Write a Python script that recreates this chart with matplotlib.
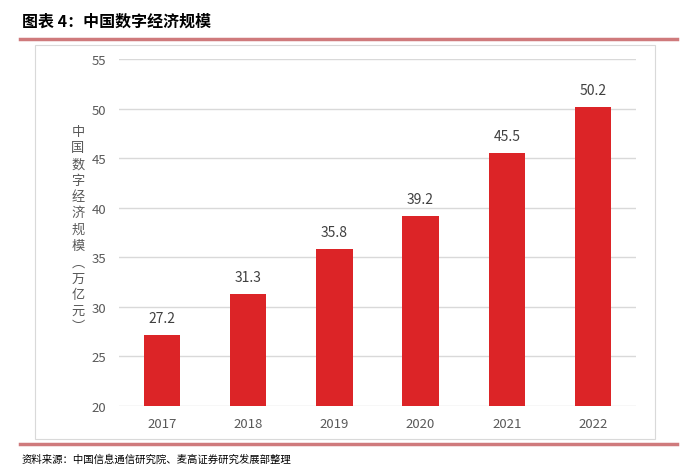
import matplotlib.pyplot as plt
from matplotlib.lines import Line2D
from matplotlib.patches import Rectangle

plt.rcParams['font.family'] = ['Noto Sans CJK SC', 'DejaVu Sans']

## Data
years = ['2017', '2018', '2019', '2020', '2021', '2022']
scale = [27.2, 31.3, 35.8, 39.2, 45.5, 50.2]
y_ticks = [20, 25, 30, 35, 40, 45, 50, 55]

title = '图表 4：中国数字经济规模'
source = '资料来源：中国信息通信研究院、麦高证券研究发展部整理'
ylabel = '中国数字经济规模︵万亿元︶'

W, H = 700, 477
fig = plt.figure(figsize=(W / 100, H / 100), dpi=100)

# axes placed in pixel coordinates of the reference
left, right, top, bottom = 119, 636, 60, 407
ax = fig.add_axes([left / W, 1 - bottom / H, (right - left) / W, (bottom - top) / H])

x = range(len(years))
ax.bar(x, [v - 20 for v in scale], bottom=20, width=0.42, color='#dc2427', zorder=3)
for i, v in enumerate(scale):
    ax.text(i, v + 1.0, f'{v:.1f}', ha='center', va='bottom', fontsize=10, color='#404040')

ax.set_xlim(-0.5, 5.5)
ax.set_ylim(20, 55)
ax.set_yticks(y_ticks)
ax.set_xticks(list(x))
ax.set_xticklabels(years)
ax.grid(axis='y', color='#d9d9d9', linewidth=1, zorder=0)
for s in ax.spines.values():
    s.set_visible(False)
ax.tick_params(length=0, labelsize=9.5, labelcolor='#595959', pad=8)
ax.tick_params(axis='y', pad=9)

# vertical y label, one char per line
fig.text(78 / W, 1 - 230 / H, '\n'.join(ylabel), ha='center', va='center',
         fontsize=9.5, color='#595959', linespacing=1.33)

# chart frame
fig.patches.append(Rectangle((35 / W, 1 - 440 / H), (655 - 35) / W, (440 - 46) / H,
                             transform=fig.transFigure, fill=False,
                             edgecolor='#d9d9d9', linewidth=0.8))

# title, rules and source
fig.text(22 / W, 1 - 22 / H, title, ha='left', va='center', fontsize=11.5,
         fontweight='bold', color='black')
fig.lines.append(Line2D([20 / W, 677 / W], [1 - 40 / H, 1 - 40 / H],
                        transform=fig.transFigure, color='#cf7a7c', linewidth=2.5))
fig.lines.append(Line2D([20 / W, 677 / W], [1 - 445 / H, 1 - 445 / H],
                        transform=fig.transFigure, color='#cf7a7c', linewidth=2.5))
fig.text(22 / W, 1 - 460 / H, source, ha='left', va='center', fontsize=7.5, color='black')

fig.savefig('out.png', dpi=100)
